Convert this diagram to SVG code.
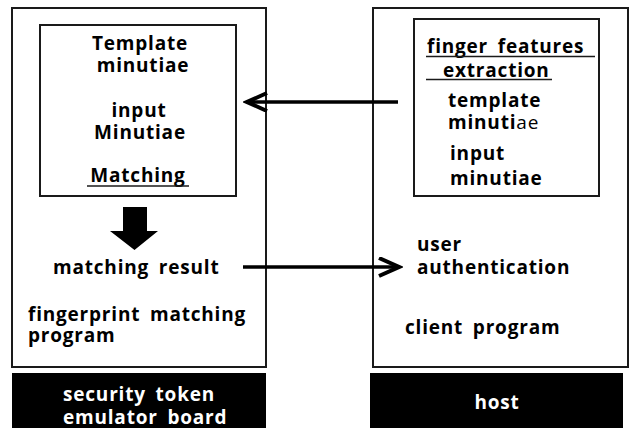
<svg xmlns="http://www.w3.org/2000/svg" width="630" height="428" viewBox="0 0 630 428">
  <style>
    .box { fill: #fff; stroke: #1a1a1a; stroke-width: 2; }
    .label { fill: #000; font-family: "Open Sans", "Noto Sans", sans-serif; font-weight: bold; font-size: 19px; letter-spacing: 0.8px; word-spacing: 4px; }
    .mid { text-anchor: middle; }
    .inv { fill: #fff; }
    .ul { stroke: #1a1a1a; stroke-width: 1.3; }
    .conn { fill: none; stroke: #000; stroke-width: 3.5; }
  </style>
  <defs>
    <marker id="chevron" markerUnits="userSpaceOnUse" markerWidth="26" markerHeight="24" refX="22" refY="10" orient="auto">
      <path d="M2,1 L22,10 L2,19" fill="none" stroke="#000" stroke-width="4"/>
    </marker>
  </defs>
  <rect width="630" height="428" fill="#fff"/>

  <!-- security token side -->
  <g id="token">
    <rect class="box" x="12" y="8" width="254" height="359"/>
    <text class="label" x="53" y="274">matching result</text>
    <text class="label" x="28" y="321">fingerprint matching</text>
    <text class="label" x="28" y="342">program</text>
  </g>

  <g id="matcher">
    <rect class="box" x="40" y="25" width="196" height="171"/>
    <text class="label mid" x="140" y="50">Template</text>
    <text class="label mid" x="143" y="72">minutiae</text>
    <text class="label mid" x="139" y="117">input</text>
    <text class="label mid" x="140" y="139">Minutiae</text>
    <text class="label mid" x="138" y="182">Matching</text>
    <line class="ul" x1="87" y1="186" x2="189" y2="186"/>
  </g>

  <g id="result-flow">
    <polygon points="123,207 147,207 147,231 158,231 134.5,250 110,231 123,231" fill="#000"/>
  </g>

  <g id="token-label">
    <rect x="12" y="373" width="254" height="55" fill="#000"/>
    <text class="label inv" x="63" y="401">security token</text>
    <text class="label inv" x="63" y="424">emulator board</text>
  </g>

  <!-- host side -->
  <g id="host">
    <rect class="box" x="373" y="8" width="255" height="359"/>
    <text class="label" x="417" y="251">user</text>
    <text class="label" x="417" y="274">authentication</text>
    <text class="label" x="405" y="334">client program</text>
  </g>

  <g id="extractor">
    <rect class="box" x="414" y="19" width="185" height="177"/>
    <text class="label" x="427" y="53">finger features</text>
    <line class="ul" x1="426" y1="56.5" x2="595" y2="56.5"/>
    <text class="label" x="443" y="77">extraction</text>
    <line class="ul" x1="426" y1="79.5" x2="552" y2="79.5"/>
    <text class="label" x="448" y="107">template</text>
    <text class="label" x="448" y="129">minuti<tspan font-weight="normal">ae</tspan></text>
    <text class="label" x="450" y="160">input</text>
    <text class="label" x="450" y="185">minutiae</text>
  </g>

  <g id="host-label">
    <rect x="370" y="373" width="253" height="55" fill="#000"/>
    <text class="label inv mid" x="497" y="409">host</text>
  </g>

  <!-- connectors -->
  <g id="connectors">
    <line class="conn" x1="398" y1="102" x2="247" y2="102" marker-end="url(#chevron)"/>
    <line class="conn" x1="243" y1="267" x2="399" y2="267" marker-end="url(#chevron)"/>
  </g>
</svg>
